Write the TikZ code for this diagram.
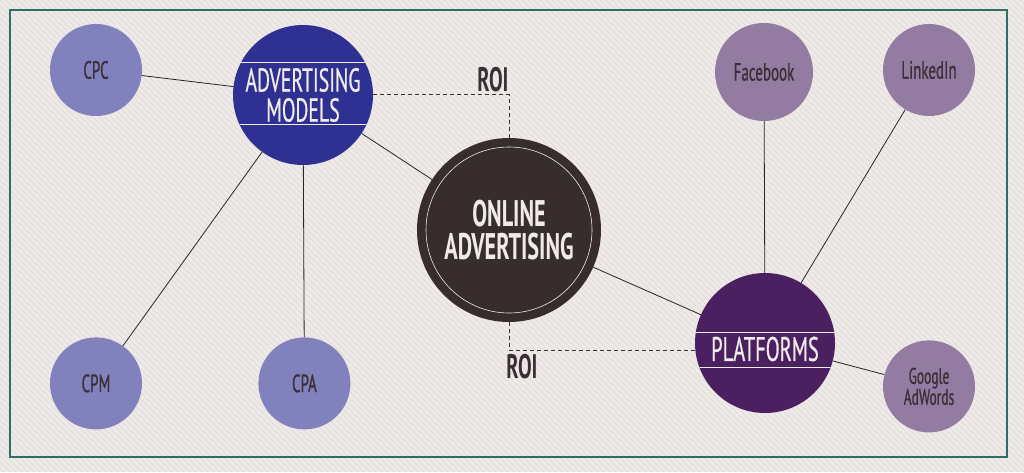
\documentclass[tikz,border=0pt]{standalone}
\usepackage{fontspec}
\setmainfont{PT Sans}[FakeStretch=0.6, UprightFeatures={FakeBold=0.6}]
\usetikzlibrary{calc,positioning}

\definecolor{paper}{HTML}{EEEAE7}
\definecolor{stripe}{HTML}{E2DDDA}
\definecolor{framegreen}{HTML}{2E6E66}
\definecolor{lightblue}{HTML}{8181BD}
\definecolor{deepblue}{HTML}{2E3192}
\definecolor{darkbrown}{HTML}{372D2F}
\definecolor{darkpurple}{HTML}{4B2061}
\definecolor{mauve}{HTML}{937BA1}
\definecolor{ink}{HTML}{3A2F35}
\definecolor{chalk}{HTML}{EFEBE8}

\tikzset{
  hub/.style={circle, inner sep=0pt, minimum size=140pt, text=chalk, align=center,
    font=\fontsize{33}{30}\selectfont},
  leaf/.style={circle, inner sep=0pt, minimum size=92pt, text=ink, align=center,
    font=\fontsize{25}{20}\selectfont},
  roitext/.style={text=ink, inner sep=0pt, font=\bfseries\fontsize{34}{28}\selectfont},
  link/.style={draw=black!85, line width=0.8pt},
  roi/.style={draw=ink, line width=1pt, dash pattern=on 4pt off 3pt},
  chord/.style={draw=chalk, line width=1pt},
}

\begin{document}
\begin{tikzpicture}[x=1pt, y=1pt]
        \useasboundingbox (0,0) rectangle (1024,472);
        \fill[paper] (0,0) rectangle (1024,472);
        \begin{scope}
            \clip (0,0) rectangle (1024,472);
            \foreach \i in {-480,-474,...,1030}
                \draw[stripe, line width=0.8pt] (\i,472) -- (\i+472,0);
        \end{scope}
        \draw[framegreen, line width=1.2pt] (10,15) rectangle (1007,462);

        % hubs
        \node[hub, fill=deepblue] (adv) at (303,377) {ADVERTISING\\MODELS};
        \node[hub, fill=darkbrown, minimum size=184pt,
              font=\bfseries\fontsize{37}{33}\selectfont] (online) at (509,242) {ONLINE\\ADVERTISING};
        \node[hub, fill=darkpurple, label={[text=chalk, yshift=-6pt,
              font=\fontsize{34}{31}\selectfont]center:PLATFORMS}] (plat) at (765,129) {};

        % models
        \node[leaf, fill=lightblue] (cpc) at (96,402) {CPC};
        \node[leaf, fill=lightblue, below=221pt of cpc] (cpm) {CPM};
        \node[leaf, fill=lightblue, right=116pt of cpm] (cpa) {CPA};

        % platforms
        \node[leaf, fill=mauve, minimum size=98pt] (fb) at (764,400) {Facebook};
        \node[leaf, fill=mauve] (li) at (929,402) {LinkedIn};
        \node[leaf, fill=mauve, below=224pt of li, font=\fontsize{22.5}{21}\selectfont] (gaw) {Google\\AdWords};

        \node[roitext] (roitop) at (493,392) {ROI};
        \node[roitext] (roibot) at (522,105) {ROI};

        \begin{scope}
            \clip (adv) circle (70);
            \draw[chord] ($(adv)+(-70,32)$) -- +(140,0);
            \draw[chord] ($(adv)+(-70,-30)$) -- +(140,0);
        \end{scope}
        \begin{scope}
            \clip (plat) circle (70);
            \draw[chord] ($(plat)+(-70,11)$) -- +(140,0);
            \draw[chord] ($(plat)+(-70,-24)$) -- +(140,0);
        \end{scope}
        \draw[chalk, line width=0.6pt] (online) circle (83);

        \draw[link] (cpc) -- (adv);
        \draw[link] (adv) -- (cpm);
        \draw[link] (adv) -- (cpa);
        \draw[link] (adv) -- (online);
        \draw[link] (online) -- (plat);
        \draw[link] (plat) -- (fb);
        \draw[link] (plat) -- (li);
        \draw[link] (plat) -- (gaw);

        \draw[roi] (adv.east) -| (online.north);
        \draw[roi] (online.south) |- (plat.186);
    \end{tikzpicture}
\end{document}
